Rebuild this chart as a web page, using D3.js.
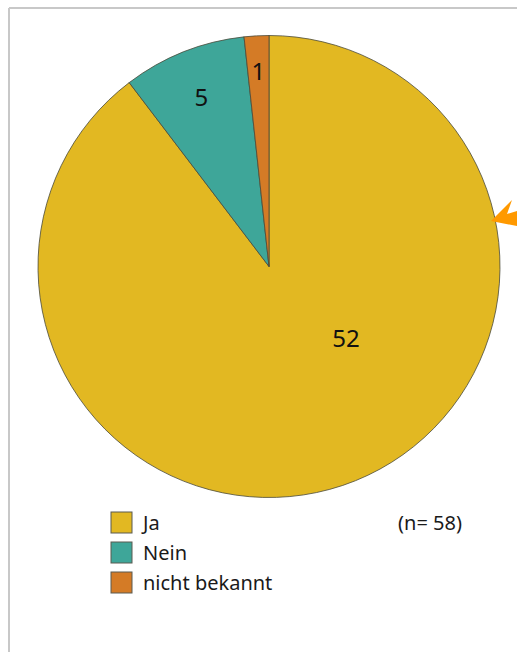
<!DOCTYPE html>
<html><head><meta charset="utf-8">
<script src="https://cdn.jsdelivr.net/npm/d3@7"></script>
<style>html,body{margin:0;padding:0;background:#fff;}svg{display:block;}</style>
</head><body>
<svg id="c" width="517" height="652"></svg>
<script>
const categories = ["Ja", "Nein", "nicht bekannt"];
const values = [52, 5, 1];
const colors = ["#E2B822", "#3EA699", "#D47B26"];
const nLabel = "(n= 58)";

const svg = d3.select("#c");
const W = 517, H = 652;
const cx = 269, cy = 266.5, R = 231;
const font = "'Noto Sans', 'Open Sans', sans-serif";

// frame
svg.append("line").attr("x1", 9).attr("x2", W).attr("y1", 8).attr("y2", 8)
  .attr("stroke", "#c8c8c8").attr("stroke-width", 2);
svg.append("line").attr("x1", 9).attr("x2", 9).attr("y1", 8).attr("y2", H)
  .attr("stroke", "#c8c8c8").attr("stroke-width", 2);

const data = categories.map((c, i) => ({cat: c, value: values[i], color: colors[i]}));
const pie = d3.pie().value(d => d.value).sort(null);
const arcs = pie(data);
const arc = d3.arc().innerRadius(0).outerRadius(R);

const g = svg.append("g").attr("transform", `translate(${cx},${cy})`);
g.selectAll("path").data(arcs).join("path")
  .attr("d", arc)
  .attr("fill", d => d.data.color)
  .attr("stroke", "#4a4a3a")
  .attr("stroke-width", 0.8)
  .attr("stroke-linejoin", "round");

// label placement: radius fraction and angle override (layout)
const labelLayout = [{r: 0.455, a: 132.9}, {r: 0.79, a: null}, {r: 0.845, a: null}];
g.selectAll("text.lbl").data(arcs).join("text")
  .attr("class", "lbl")
  .attr("x", (d, i) => {
    const L = labelLayout[i];
    const ang = L.a !== null ? L.a * Math.PI / 180 : (d.startAngle + d.endAngle) / 2;
    return Math.sin(ang) * R * L.r;
  })
  .attr("y", (d, i) => {
    const L = labelLayout[i];
    const ang = L.a !== null ? L.a * Math.PI / 180 : (d.startAngle + d.endAngle) / 2;
    return -Math.cos(ang) * R * L.r;
  })
  .attr("dy", "0.36em")
  .attr("text-anchor", "middle")
  .attr("font-family", font)
  .attr("font-size", 24)
  .attr("fill", "#111")
  .text(d => d.data.value);

// orange arrow at right edge
svg.append("polygon")
  .attr("points", "491,221 512,200 507,214 517,211 517,226")
  .attr("fill", "#FF9900");

// legend
const leg = svg.append("g");
const items = leg.selectAll("g").data(data).join("g")
  .attr("transform", (d, i) => `translate(111,${512 + i * 30})`);
items.append("rect").attr("width", 21).attr("height", 21)
  .attr("fill", d => d.color).attr("stroke", "#5a5a50").attr("stroke-width", 1);
items.append("text").attr("x", 32).attr("y", 18)
  .attr("font-family", font).attr("font-size", 20).attr("fill", "#1a1a1a")
  .text(d => d.cat);

svg.append("text").attr("x", 462).attr("y", 530).attr("text-anchor", "end")
  .attr("font-family", font).attr("font-size", 20).attr("fill", "#1a1a1a")
  .text(nLabel);
</script>
</body></html>
